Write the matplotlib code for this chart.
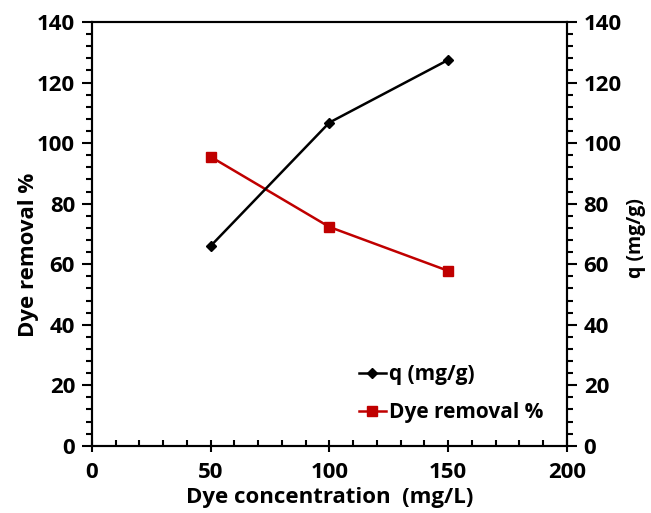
import matplotlib.pyplot as plt
from matplotlib.ticker import MultipleLocator

plt.rcParams['font.family'] = ['Open Sans', 'DejaVu Sans']

# Data
conc = [50, 100, 150]
removal = [95.5, 72.3, 57.8]
q_values = [66.0, 106.8, 127.5]

fig, ax = plt.subplots(figsize=(6.51, 5.13), dpi=100)
fig.subplots_adjust(left=0.141, right=0.871, top=0.957, bottom=0.131)
ax2 = ax.twinx()

l2, = ax.plot(conc, removal, color='#c00000', marker='s', markersize=7,
              linewidth=1.8, label='Dye removal %')
l1, = ax2.plot(conc, q_values, color='black', marker='D', markersize=5.5,
               linewidth=1.8, label='q (mg/g)')

for a in (ax, ax2):
    a.set_ylim(0, 140)
    a.yaxis.set_major_locator(MultipleLocator(20))
    a.yaxis.set_minor_locator(MultipleLocator(4))
    for s in a.spines.values():
        s.set_linewidth(1.5)
ax.set_xlim(0, 200)
ax.xaxis.set_major_locator(MultipleLocator(50))
ax.xaxis.set_minor_locator(MultipleLocator(10))

ax.tick_params(axis='y', which='major', direction='out', length=7, width=1.5,
               labelsize=16, pad=5)
ax.tick_params(axis='y', which='minor', direction='out', length=4, width=1.5)
ax.tick_params(axis='x', which='major', direction='inout', length=8, width=1.5,
               labelsize=16, pad=8)
ax.tick_params(axis='x', which='minor', direction='in', length=4, width=1.5)
ax2.tick_params(axis='y', which='major', direction='out', length=7, width=1.5,
                labelsize=16, pad=5)
ax2.tick_params(axis='y', which='minor', direction='out', length=4, width=1.5)
for lab in ax.get_xticklabels() + ax.get_yticklabels() + ax2.get_yticklabels():
    lab.set_fontweight('bold')

ax.set_xlabel('Dye concentration  (mg/L)', fontsize=16, fontweight='bold')
ax.xaxis.set_label_coords(0.5, -0.098)
ax.set_ylabel('Dye removal %', fontsize=16, fontweight='bold')
ax.yaxis.set_label_coords(-0.112, 0.45)
ax2.set_ylabel('q (mg/g)', fontsize=14, fontweight='bold')
ax2.yaxis.set_label_coords(1.125, 0.49)

leg = ax.legend([l1, l2], ['q (mg/g)', 'Dye removal %'], loc='lower right',
                bbox_to_anchor=(0.99, 0.01), frameon=False,
                handlelength=1.3, handletextpad=0.15, labelspacing=0.8,
                prop={'weight': 'bold', 'size': 15})

plt.savefig('out.png')
